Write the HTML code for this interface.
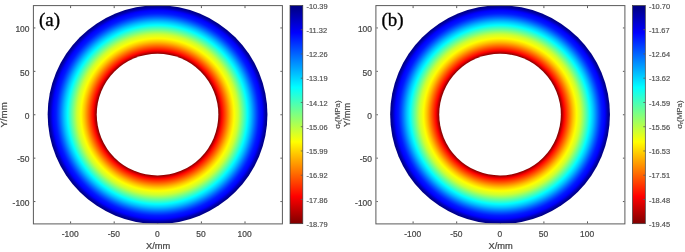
<!DOCTYPE html><html><head><meta charset="utf-8"><title>Figure</title><style>html,body{margin:0;padding:0;background:#fff}svg{display:block}text{stroke:#4a4a4a;stroke-width:.22px}text.ct{stroke:#555;stroke-width:.18px}text.cl{stroke-width:.12px}text.lt{stroke:#000;stroke-width:.3px}</style></head><body><svg width="685" height="252" viewBox="0 0 685 252" font-family="'Liberation Sans',sans-serif"><defs><radialGradient id="rg" gradientUnits="userSpaceOnUse" cx="0" cy="0" r="109.9"><stop offset="0" stop-color="#800000"/><stop offset="0.5532" stop-color="#800000"/><stop offset="0.5588" stop-color="#940000"/><stop offset="0.5644" stop-color="#a80000"/><stop offset="0.5700" stop-color="#c10000"/><stop offset="0.5756" stop-color="#da0000"/><stop offset="0.5812" stop-color="#f20000"/><stop offset="0.5867" stop-color="#ff0600"/><stop offset="0.5923" stop-color="#ff1400"/><stop offset="0.5979" stop-color="#ff2100"/><stop offset="0.6035" stop-color="#ff2e00"/><stop offset="0.6091" stop-color="#ff3c00"/><stop offset="0.6147" stop-color="#ff4900"/><stop offset="0.6202" stop-color="#ff5600"/><stop offset="0.6258" stop-color="#ff6400"/><stop offset="0.6314" stop-color="#ff7100"/><stop offset="0.6370" stop-color="#ff7f00"/><stop offset="0.6426" stop-color="#ff8c00"/><stop offset="0.6482" stop-color="#ff9a00"/><stop offset="0.6538" stop-color="#ffa700"/><stop offset="0.6593" stop-color="#ffb400"/><stop offset="0.6649" stop-color="#ffc100"/><stop offset="0.6705" stop-color="#ffcc00"/><stop offset="0.6761" stop-color="#ffd700"/><stop offset="0.6817" stop-color="#ffe200"/><stop offset="0.6873" stop-color="#ffed00"/><stop offset="0.6928" stop-color="#fff800"/><stop offset="0.6984" stop-color="#fcff03"/><stop offset="0.7040" stop-color="#f5ff0a"/><stop offset="0.7096" stop-color="#edff12"/><stop offset="0.7152" stop-color="#e5ff1a"/><stop offset="0.7208" stop-color="#deff21"/><stop offset="0.7264" stop-color="#d7ff28"/><stop offset="0.7319" stop-color="#cfff30"/><stop offset="0.7375" stop-color="#c4ff3b"/><stop offset="0.7431" stop-color="#b6ff49"/><stop offset="0.7487" stop-color="#a9ff56"/><stop offset="0.7543" stop-color="#9cff63"/><stop offset="0.7599" stop-color="#8eff71"/><stop offset="0.7654" stop-color="#81ff7e"/><stop offset="0.7710" stop-color="#73ff8c"/><stop offset="0.7766" stop-color="#66ff99"/><stop offset="0.7822" stop-color="#59ffa6"/><stop offset="0.7878" stop-color="#4bffb4"/><stop offset="0.7934" stop-color="#3effc1"/><stop offset="0.7990" stop-color="#31ffce"/><stop offset="0.8045" stop-color="#23ffdc"/><stop offset="0.8101" stop-color="#14ffeb"/><stop offset="0.8157" stop-color="#06fff9"/><stop offset="0.8213" stop-color="#00f9ff"/><stop offset="0.8269" stop-color="#00eeff"/><stop offset="0.8325" stop-color="#00e3ff"/><stop offset="0.8380" stop-color="#00d8ff"/><stop offset="0.8436" stop-color="#00cdff"/><stop offset="0.8492" stop-color="#00c1ff"/><stop offset="0.8548" stop-color="#00b4ff"/><stop offset="0.8604" stop-color="#00a7ff"/><stop offset="0.8660" stop-color="#0099ff"/><stop offset="0.8716" stop-color="#008cff"/><stop offset="0.8771" stop-color="#007eff"/><stop offset="0.8827" stop-color="#0071ff"/><stop offset="0.8883" stop-color="#0064ff"/><stop offset="0.8939" stop-color="#0057ff"/><stop offset="0.8995" stop-color="#004aff"/><stop offset="0.9051" stop-color="#003fff"/><stop offset="0.9106" stop-color="#0034ff"/><stop offset="0.9162" stop-color="#0029ff"/><stop offset="0.9218" stop-color="#001eff"/><stop offset="0.9274" stop-color="#0017ff"/><stop offset="0.9330" stop-color="#0012ff"/><stop offset="0.9386" stop-color="#000dff"/><stop offset="0.9442" stop-color="#0008ff"/><stop offset="0.9497" stop-color="#0003ff"/><stop offset="0.9553" stop-color="#0000f7"/><stop offset="0.9609" stop-color="#0000e4"/><stop offset="0.9665" stop-color="#0000d1"/><stop offset="0.9721" stop-color="#0000bf"/><stop offset="0.9777" stop-color="#0000ad"/><stop offset="0.9832" stop-color="#00009c"/><stop offset="0.9888" stop-color="#000093"/><stop offset="0.9944" stop-color="#000089"/><stop offset="1.0000" stop-color="#000080"/></radialGradient><linearGradient id="cb" x1="0" y1="0" x2="0" y2="1"><stop offset="0.0000" stop-color="#000080"/><stop offset="0.0312" stop-color="#00009f"/><stop offset="0.0625" stop-color="#0000bf"/><stop offset="0.0938" stop-color="#0000df"/><stop offset="0.1250" stop-color="#0000ff"/><stop offset="0.1562" stop-color="#0020ff"/><stop offset="0.1875" stop-color="#0040ff"/><stop offset="0.2188" stop-color="#0060ff"/><stop offset="0.2500" stop-color="#0080ff"/><stop offset="0.2812" stop-color="#009fff"/><stop offset="0.3125" stop-color="#00bfff"/><stop offset="0.3438" stop-color="#00dfff"/><stop offset="0.3750" stop-color="#00ffff"/><stop offset="0.4062" stop-color="#20ffdf"/><stop offset="0.4375" stop-color="#40ffbf"/><stop offset="0.4688" stop-color="#60ff9f"/><stop offset="0.5000" stop-color="#80ff80"/><stop offset="0.5312" stop-color="#9fff60"/><stop offset="0.5625" stop-color="#bfff40"/><stop offset="0.5938" stop-color="#dfff20"/><stop offset="0.6250" stop-color="#ffff00"/><stop offset="0.6562" stop-color="#ffdf00"/><stop offset="0.6875" stop-color="#ffbf00"/><stop offset="0.7188" stop-color="#ff9f00"/><stop offset="0.7500" stop-color="#ff8000"/><stop offset="0.7812" stop-color="#ff6000"/><stop offset="0.8125" stop-color="#ff4000"/><stop offset="0.8438" stop-color="#ff2000"/><stop offset="0.8750" stop-color="#ff0000"/><stop offset="0.9062" stop-color="#df0000"/><stop offset="0.9375" stop-color="#bf0000"/><stop offset="0.9688" stop-color="#9f0000"/><stop offset="1.0000" stop-color="#800000"/></linearGradient><clipPath id="clipbox"><rect x="33.4" y="5.3" width="249" height="218.05"/></clipPath></defs><g transform="translate(0,0)"><text x="70.2" y="236.8" font-size="8.45" text-anchor="middle" fill="#444">-100</text><text x="29.5" y="205.7" font-size="8.45" text-anchor="end" fill="#444">-100</text><text x="113.8" y="236.8" font-size="8.45" text-anchor="middle" fill="#444">-50</text><text x="29.5" y="162.3" font-size="8.45" text-anchor="end" fill="#444">-50</text><text x="157.4" y="236.8" font-size="8.45" text-anchor="middle" fill="#444">0</text><text x="29.5" y="118.9" font-size="8.45" text-anchor="end" fill="#444">0</text><text x="201" y="236.8" font-size="8.45" text-anchor="middle" fill="#444">50</text><text x="29.5" y="75.5" font-size="8.45" text-anchor="end" fill="#444">50</text><text x="244.6" y="236.8" font-size="8.45" text-anchor="middle" fill="#444">100</text><text x="29.5" y="32.1" font-size="8.45" text-anchor="end" fill="#444">100</text><path d="M70.6,223.4v-2M70.6,6.1v2M33.9,201.55h1.5M281.9,201.55h-1.5M114.2,223.4v-2M114.2,6.1v2M33.9,158.15h1.5M281.9,158.15h-1.5M157.8,223.4v-2M157.8,6.1v2M33.9,114.75h1.5M281.9,114.75h-1.5M201.4,223.4v-2M201.4,6.1v2M33.9,71.35h1.5M281.9,71.35h-1.5M245,223.4v-2M245,6.1v2M33.9,27.95h1.5M281.9,27.95h-1.5" stroke="#5a5a5a" stroke-width="1" fill="none"/><g clip-path="url(#clipbox)"><g transform="translate(157.55,114.6) scale(1,0.9955)"><circle r="109.9" fill="url(#rg)"/><ellipse rx="60.8" ry="61.15" fill="#fff"/></g></g><rect x="33.4" y="5.6" width="249" height="218.3" fill="none" stroke="#5a5a5a" stroke-width="1"/><text x="158.1" y="249.1" font-size="9.3" text-anchor="middle" fill="#444">X/mm</text><text transform="translate(7.1,114.95) rotate(-90)" font-size="9.7" text-anchor="middle" fill="#444">Y/mm</text><text x="38.9" y="26.3" font-size="19" class="lt" font-family="'Liberation Serif',serif" fill="#000">(a)</text><rect x="290" y="5.5" width="12.8" height="218.2" fill="url(#cb)" stroke="#3c3c3c" stroke-width="0.7"/><text x="306.5" y="8.6" font-size="7.45" fill="#505050" class="ct">-10.39</text><text x="306.5" y="32.8556" font-size="7.45" fill="#505050" class="ct">-11.32</text><text x="306.5" y="57.1111" font-size="7.45" fill="#505050" class="ct">-12.26</text><text x="306.5" y="81.3667" font-size="7.45" fill="#505050" class="ct">-13.19</text><text x="306.5" y="105.622" font-size="7.45" fill="#505050" class="ct">-14.12</text><text x="306.5" y="129.878" font-size="7.45" fill="#505050" class="ct">-15.06</text><text x="306.5" y="154.133" font-size="7.45" fill="#505050" class="ct">-15.99</text><text x="306.5" y="178.389" font-size="7.45" fill="#505050" class="ct">-16.92</text><text x="306.5" y="202.644" font-size="7.45" fill="#505050" class="ct">-17.86</text><text x="306.5" y="226.9" font-size="7.45" fill="#505050" class="ct">-18.79</text><path d="M302.8,29.7056h-2M302.8,53.9611h-2M302.8,78.2167h-2M302.8,102.472h-2M302.8,126.728h-2M302.8,150.983h-2M302.8,175.239h-2M302.8,199.494h-2" stroke="#5a5a5a" stroke-width="0.8" fill="none"/><text transform="translate(339.8,128.65) rotate(-90)" font-size="6.6" textLength="28.2" class="cl" lengthAdjust="spacingAndGlyphs" fill="#4a4a4a">σ<tspan dy="1" font-size="4.6">r</tspan><tspan dy="-1">(MPa)</tspan></text></g><g transform="translate(342.5,0)"><text x="70.2" y="236.8" font-size="8.45" text-anchor="middle" fill="#444">-100</text><text x="29.5" y="205.7" font-size="8.45" text-anchor="end" fill="#444">-100</text><text x="113.8" y="236.8" font-size="8.45" text-anchor="middle" fill="#444">-50</text><text x="29.5" y="162.3" font-size="8.45" text-anchor="end" fill="#444">-50</text><text x="157.4" y="236.8" font-size="8.45" text-anchor="middle" fill="#444">0</text><text x="29.5" y="118.9" font-size="8.45" text-anchor="end" fill="#444">0</text><text x="201" y="236.8" font-size="8.45" text-anchor="middle" fill="#444">50</text><text x="29.5" y="75.5" font-size="8.45" text-anchor="end" fill="#444">50</text><text x="244.6" y="236.8" font-size="8.45" text-anchor="middle" fill="#444">100</text><text x="29.5" y="32.1" font-size="8.45" text-anchor="end" fill="#444">100</text><path d="M70.6,223.4v-2M70.6,6.1v2M33.9,201.55h1.5M281.9,201.55h-1.5M114.2,223.4v-2M114.2,6.1v2M33.9,158.15h1.5M281.9,158.15h-1.5M157.8,223.4v-2M157.8,6.1v2M33.9,114.75h1.5M281.9,114.75h-1.5M201.4,223.4v-2M201.4,6.1v2M33.9,71.35h1.5M281.9,71.35h-1.5M245,223.4v-2M245,6.1v2M33.9,27.95h1.5M281.9,27.95h-1.5" stroke="#5a5a5a" stroke-width="1" fill="none"/><g clip-path="url(#clipbox)"><g transform="translate(157.55,114.6) scale(1,0.9955)"><circle r="109.9" fill="url(#rg)"/><ellipse rx="60.8" ry="61.15" fill="#fff"/></g></g><rect x="33.4" y="5.6" width="249" height="218.3" fill="none" stroke="#5a5a5a" stroke-width="1"/><text x="158.1" y="249.1" font-size="9.3" text-anchor="middle" fill="#444">X/mm</text><text transform="translate(7,114.85) rotate(-90)" font-size="9.3" text-anchor="middle" fill="#444">Y/mm</text><text x="38.9" y="26.3" font-size="19" class="lt" font-family="'Liberation Serif',serif" fill="#000">(b)</text><rect x="290" y="5.5" width="12.8" height="218.2" fill="url(#cb)" stroke="#3c3c3c" stroke-width="0.7"/><text x="306.5" y="8.6" font-size="7.45" fill="#505050" class="ct">-10.70</text><text x="306.5" y="32.8556" font-size="7.45" fill="#505050" class="ct">-11.67</text><text x="306.5" y="57.1111" font-size="7.45" fill="#505050" class="ct">-12.64</text><text x="306.5" y="81.3667" font-size="7.45" fill="#505050" class="ct">-13.62</text><text x="306.5" y="105.622" font-size="7.45" fill="#505050" class="ct">-14.59</text><text x="306.5" y="129.878" font-size="7.45" fill="#505050" class="ct">-15.56</text><text x="306.5" y="154.133" font-size="7.45" fill="#505050" class="ct">-16.53</text><text x="306.5" y="178.389" font-size="7.45" fill="#505050" class="ct">-17.51</text><text x="306.5" y="202.644" font-size="7.45" fill="#505050" class="ct">-18.48</text><text x="306.5" y="226.9" font-size="7.45" fill="#505050" class="ct">-19.45</text><path d="M302.8,29.7056h-2M302.8,53.9611h-2M302.8,78.2167h-2M302.8,102.472h-2M302.8,126.728h-2M302.8,150.983h-2M302.8,175.239h-2M302.8,199.494h-2" stroke="#5a5a5a" stroke-width="0.8" fill="none"/><text transform="translate(339.8,128.65) rotate(-90)" font-size="6.6" textLength="28.2" class="cl" lengthAdjust="spacingAndGlyphs" fill="#4a4a4a">σ<tspan dy="1" font-size="4.6">r</tspan><tspan dy="-1">(MPa)</tspan></text></g></svg></body></html>
